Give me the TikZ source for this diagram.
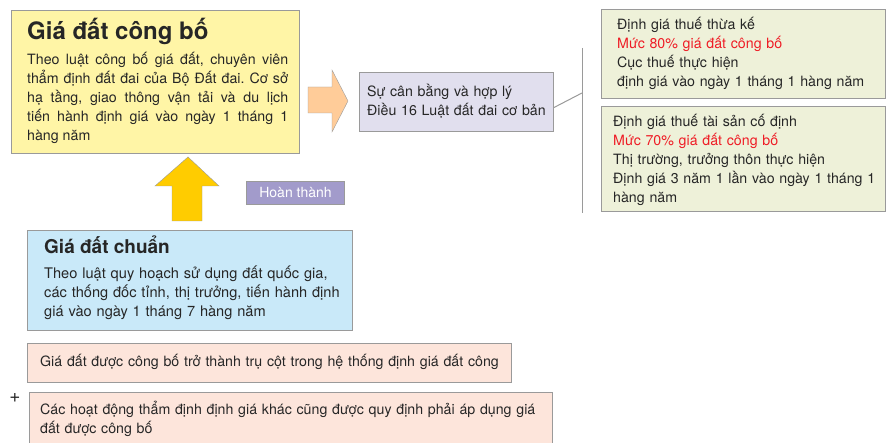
\documentclass[tikz,border=0pt]{standalone}
\usepackage{fontspec}
\setmainfont{TeX Gyre Heros}
\usetikzlibrary{positioning}
\frenchspacing

\definecolor{congbo}{HTML}{FFF5A6}
\definecolor{chuan}{HTML}{C9E9F9}
\definecolor{canbang}{HTML}{E1DFEE}
\definecolor{thue}{HTML}{EEF1D9}
\definecolor{hong}{HTML}{FDE5DB}
\definecolor{hoan}{HTML}{A29BCB}
\definecolor{muiten}{HTML}{FFCC00}
\definecolor{muicam}{HTML}{FFCC99}
\definecolor{vien}{HTML}{9A9A9A}
\definecolor{do}{HTML}{EE1C25}

\begin{document}
\begin{tikzpicture}[x=1pt, y=-1pt,
    box/.style={draw=vien, line width=1pt, inner sep=0pt, anchor=north west},
    txt/.style={anchor=base west, inner sep=0pt, align=left, font=\fontsize{14.2}{19}\selectfont},
    title/.style={anchor=base west, inner sep=0pt, font=\bfseries\fontsize{#1}{#1}\selectfont},
    every node/.style={text=black!85}]

        \useasboundingbox (0,0) rectangle (892,443);

        % --- LEFT COLUMN ---
        % (1) Gia dat cong bo
        \node[box, fill=congbo, minimum width=288pt, minimum height=143pt] (congbo) at (11,10) {};
        \node[title=24] (congbotit) at (27,40) {Giá đất công bố};
        \node[txt, text width=261pt, align=justify] (congbotxt) at (27,65)
            {Theo luật công bố giá đất, chuyên viên\linebreak
             thẩm định đất đai của Bộ Đất đai. Cơ sở\linebreak
             hạ tầng, giao thông vận tải và du lịch\linebreak
             tiến hành định giá vào ngày 1 tháng 1\linebreak
             hàng năm};

        % (2) up arrow + Hoan thanh
        \draw[draw=vien, fill=muiten] (188,157) -- (219,186) -- (202,186) -- (202,221)
            -- (172,221) -- (172,186) -- (155,186) -- cycle;
        \node[box, fill=hoan, minimum width=98pt, minimum height=23pt] (hoan) at (246,181) {};
        \node[inner sep=0pt, text=white, font=\fontsize{14}{14}\selectfont] (hoantxt) at (hoan.center) {Hoàn thành};

        % (3) Gia dat chuan
        \node[box, fill=chuan, minimum width=325pt, minimum height=100pt] (chuan) at (27,230) {};
        \node[title=19] (chuantit) at (44,254) {Giá đất chuẩn};
        \node[txt, text width=300pt, font=\fontsize{14.6}{19}\selectfont] (chuantxt) at (44,279)
            {Theo luật quy hoạch sử dụng đất quốc gia,\\
             các thống đốc tỉnh, thị trưởng, tiến hành định\\
             giá vào ngày 1 tháng 7 hàng năm};

        % (4) pink boxes
        \node[box, fill=hong, minimum width=484pt, minimum height=39pt] (tru) at (27,343) {};
        \node[txt, text width=470pt] (trutxt) at (40,367)
            {Giá đất được công bố trở thành trụ cột trong hệ thống định giá đất công};
        \node[inner sep=0pt, font=\fontsize{19}{19}\selectfont] (cong) at (15,398) {+};
        \node[box, fill=hong, minimum width=523pt, minimum height=60pt] (apdung) at (29,392) {};
        \node[txt, text width=510pt] (apdungtxt) at (40,415)
            {Các hoạt động thẩm định định giá khác cũng được quy định phải áp dụng giá\\
             đất được công bố};

        % --- RIGHT COLUMN ---
        % (5) right arrow + Su can bang
        \draw[draw=vien, fill=muicam] (308,87) -- (332,87) -- (332,70) -- (348,101)
            -- (332,132) -- (332,113) -- (308,113) -- cycle;
        \node[box, fill=canbang, minimum width=194pt, minimum height=59pt] (canbang) at (359,72) {};
        \node[txt, text width=185pt] (canbangtxt) at (367,97)
            {Sự cân bằng và hợp lý\\
             Điều 16 Luật đất đai cơ bản};

        % (6) bracket
        \coordinate (ke1) at (582,48);
        \coordinate (ke2) at (582,213);
        \coordinate (noi) at (582,93);
        \draw[vien, line width=1pt] (ke1) -- (ke2);
        \draw[vien, line width=1pt] ([yshift=-5.5pt]canbang.east) -- (noi);

        % (7) tax boxes
        \node[box, fill=thue, minimum width=284pt, minimum height=89pt] (thuake) at (601,9) {};
        \node[txt, text width=265pt] (thuaketxt) at (617,30)
            {Định giá thuế thừa kế\\
             \textcolor{do}{Mức 80\% giá đất công bố}\\
             Cục thuế thực hiện\\
             định giá vào ngày 1 tháng 1 hàng năm};
        \node[box, fill=thue, minimum width=284pt, minimum height=105pt] (codinh) at (601,106) {};
        \node[txt, text width=270pt] (codinhtxt) at (613,127)
            {Định giá thuế tài sản cố định\\
             \textcolor{do}{Mức 70\% giá đất công bố}\\
             Thị trường, trưởng thôn thực hiện\\
             Định giá 3 năm 1 lần vào ngày 1 tháng 1\\
             hàng năm};

\end{tikzpicture}
\end{document}
